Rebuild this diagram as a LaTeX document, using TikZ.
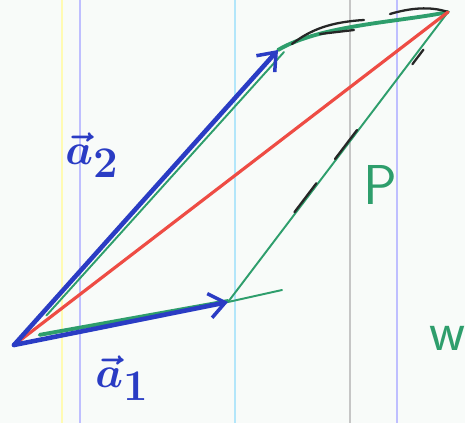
\documentclass[tikz,border=0pt]{standalone}
\usepackage{amsmath, amssymb}
\usepackage{xcolor}
\usepackage{tikz}
\usetikzlibrary{arrows.meta, positioning, calc}
\definecolor{penBlue}{HTML}{2A3CC4}
\definecolor{penGreen}{HTML}{2E9E6C}
\definecolor{penRed}{HTML}{EE4C44}
\definecolor{paperBg}{HTML}{F8FBF9}
\tikzset{
    vec_blue/.style={
        -{Straight Barb[length=9pt, width=14pt, line width=2pt]}, draw=penBlue,
        line width=2.6pt, line cap=round
    },
    edge_green/.style={
        draw=penGreen, line width=1.1pt, line cap=round
    },
    edge_green_bold/.style={
        draw=penGreen, line width=2.2pt, line cap=round
    },
    diag_red/.style={
        draw=penRed, line width=1.8pt, line cap=round
    },
    dash_black/.style={
        draw=black!85, line width=1.3pt, line cap=round
    },
    rule_line/.style={
        line width=0.6pt
    },
    lbl_blue/.style={
        text=penBlue, font=\fontsize{36}{38}\selectfont, inner sep=1pt
    },
    lbl_green/.style={
        text=penGreen, font=\fontsize{32}{34}\sffamily, inner sep=1pt
    }
}

\begin{document}
\begin{tikzpicture}[x=0.02cm, y=-0.02cm]
    \clip (0,0) rectangle (465,423);
    \fill[paperBg] (0,0) rectangle (465,423);

    % notebook rules
    \draw[rule_line, yellow!30] (62,0) -- (62,423);
    \draw[rule_line, blue!25] (80,0) -- (80,423);
    \draw[rule_line, cyan!30] (235,0) -- (235,423);
    \draw[rule_line, gray!45] (350,0) -- (350,423);
    \draw[rule_line, blue!25] (397,0) -- (397,423);

    \coordinate (origin) at (14,345);
    \coordinate (tip_a1) at (228,302);
    \coordinate (tip_a2) at (278,50);
    \coordinate (corner) at (448,12);
    \coordinate (tick_end) at (282,290);

    % parallelogram P
    \draw[edge_green] ($(origin)!0.1!(tip_a2)+(6,0)$) -- ($(tip_a2)+(6,2)$);
    \draw[edge_green_bold] ($(origin)!0.12!(tip_a1)+(0,-5)$) -- ($(tip_a1)+(0,-1)$);
    \draw[edge_green] (tip_a1) -- (corner);
    \draw[edge_green] (tip_a1) -- (tick_end);
    \draw[edge_green_bold] (tip_a2) .. controls (320,25) and (400,22) .. (corner);

    % black dashes
    \draw[dash_black] ($(tip_a1)!0.32!(corner)+(-4,3)$) -- ($(tip_a1)!0.42!(corner)+(-4,3)$);
    \draw[dash_black] ($(tip_a1)!0.5!(corner)+(-3,2)$) -- ($(tip_a1)!0.6!(corner)+(-3,2)$);
    \draw[dash_black] ($(tip_a1)!0.82!(corner)+(4,0)$) -- ($(tip_a1)!0.87!(corner)+(4,0)$);
    \draw[dash_black] (292,44) .. controls (310,30) and (330,22) .. (364,20);
    \draw[dash_black] (320,34) -- (354,30);
    \draw[dash_black] (390,14) .. controls (410,8) and (430,6) .. (corner);

    % diagonal
    \draw[diag_red] (origin) -- (corner);

    % vectors
    \draw[vec_blue] (origin) -- (tip_a1);
    \draw[vec_blue] (origin) -- (tip_a2);

    \node[lbl_blue] (lbl_a2) at (92,155) {$\boldsymbol{\vec{a}_2}$};
    \node[lbl_blue] (lbl_a1) at (122,378) {$\boldsymbol{\vec{a}_1}$};
    \node[lbl_green] (lbl_p) at (380,185) {P};
    \node[lbl_green] (lbl_w) at (448,338) {w};
\end{tikzpicture}
\end{document}
